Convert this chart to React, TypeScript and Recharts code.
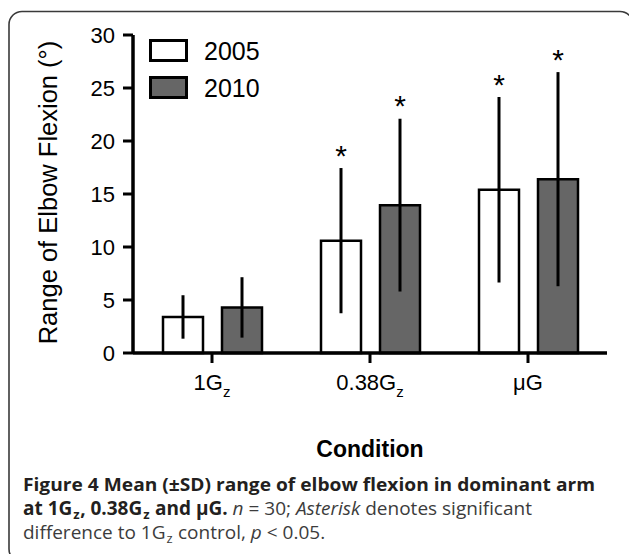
import React from 'react';
import { BarChart, Bar, XAxis, YAxis, ErrorBar, LabelList, Legend } from 'recharts';

const categories = ['1G', '0.38G', 'μG'];
const categorySubscripts = ['z', 'z', ''];
const seriesNames = ['2005', '2010'];
const mean2005 = [3.4, 10.6, 15.4];
const sd2005 = [2.05, 6.85, 8.75];
const mean2010 = [4.3, 13.95, 16.4];
const sd2010 = [2.85, 8.15, 10.1];
const sig2005 = [false, true, true];
const sig2010 = [false, true, true];
const yTicks = [0, 5, 10, 15, 20, 25, 30];

const FILL_2005 = '#ffffff';
const FILL_2010 = '#666666';
const FONT = '"Liberation Sans", Arial, Helvetica, sans-serif';
const CAPTION_FONT = '"Open Sans", "Noto Sans", sans-serif';

const data = categories.map((cat, i) => ({
  cat,
  m2005: mean2005[i],
  sd2005: sd2005[i],
  m2010: mean2010[i],
  sd2010: sd2010[i],
}));

const makeStar = (means: number[], sds: number[], sig: boolean[]) => (props: any) => {
  const vb = props.viewBox || {};
  const x0 = props.x ?? vb.x;
  const y0 = props.y ?? vb.y;
  const w = props.width ?? vb.width;
  const h0 = props.height ?? vb.height;
  let idx = props.index;
  const value = Number(props.value);
  if (idx === undefined || idx === null) idx = means.indexOf(value);
  if (idx < 0 || !sig[idx] || !value) return null;
  const top = Math.min(y0, y0 + h0);
  const h = Math.abs(h0);
  const pxPerUnit = h / value;
  const errTop = top - sds[idx] * pxPerUnit;
  return (
    <text
      key={`star-${idx}`}
      x={x0 + w / 2}
      y={errTop - 2.5}
      textAnchor="middle"
      fontSize={30}
      fontFamily={FONT}
      fill="#000"
    >
      *
    </text>
  );
};

const XTick = (props: any) => {
  const { x, y, payload } = props;
  let idx = props.index;
  if (idx === undefined) idx = categories.indexOf(payload.value);
  const sub = categorySubscripts[idx];
  return (
    <text x={x} y={y} dy={23} textAnchor="middle" fontSize={22} fontFamily={FONT} fill="#000">
      {payload.value}
      {sub ? (
        <tspan dy={7} fontSize={15}>
          {sub}
        </tspan>
      ) : null}
    </text>
  );
};

const renderLegend = (props: any) => {
  const fills = [FILL_2005, FILL_2010];
  const items = (props && props.payload && props.payload.length ? props.payload : seriesNames.map((n) => ({ value: n }))) as any[];
  return (
    <svg width={170} height={70} style={{ display: 'block', overflow: 'visible' }}>
      {items.map((entry: any, i: number) => (
        <g key={`lg-${i}`} transform={`translate(0, ${i * 37})`}>
          <rect x={1.5} y={1.5} width={36} height={20} fill={fills[i]} stroke="#000" strokeWidth={3} />
          <text x={55} y={21} fontSize={25} fontFamily={FONT} fill="#000">
            {entry.value}
          </text>
        </g>
      ))}
    </svg>
  );
};

const YLabel = (props: any) => {
  const vb = props.viewBox || { x: 83, y: 35, width: 50, height: 318 };
  const cx = vb.x - 26;
  const cy = vb.y + vb.height / 2 - 1.5;
  return (
    <text
      x={cx}
      y={cy}
      transform={`rotate(-90, ${cx}, ${cy})`}
      textAnchor="middle"
      fontSize={25.5}
      fontFamily={FONT}
      fill="#000"
    >
      Range of Elbow Flexion (°)
    </text>
  );
};

const XLabel = (props: any) => {
  const vb = props.viewBox || { x: 133, y: 353, width: 474, height: 50 };
  return (
    <text
      x={vb.x + vb.width / 2}
      y={vb.y + 104}
      textAnchor="middle"
      fontSize={23}
      fontWeight={700}
      fontFamily={FONT}
      fill="#000"
    >
      Condition
    </text>
  );
};

export default function App() {
  const boldFill = '#231f20';
  const regFill = '#3c3c3c';
  return (
    <div
      style={{
        position: 'absolute',
        left: 0,
        top: 0,
        width: 629,
        height: 554,
        overflow: 'hidden',
        background: '#fff',
      }}
    >
      <BarChart
        width={629}
        height={554}
        data={data}
        margin={{ top: 35, right: 22, bottom: 151, left: 83 }}
        barSize={40}
        barGap={19}
      >
        <XAxis
          dataKey="cat"
          height={50}
          interval={0}
          tickSize={10}
          tickMargin={4}
          axisLine={{ stroke: '#000', strokeWidth: 3.5 }}
          tickLine={{ stroke: '#000', strokeWidth: 3 }}
          tick={<XTick />}
          label={{ content: (p: any) => <XLabel {...p} /> }}
        />
        <YAxis
          domain={[0, 30]}
          ticks={yTicks}
          width={50}
          interval={0}
          tickSize={10}
          tickMargin={8}
          axisLine={{ stroke: '#000', strokeWidth: 3.5 }}
          tickLine={{ stroke: '#000', strokeWidth: 3 }}
          tick={{ fontSize: 22, fill: '#000', fontFamily: FONT }}
          label={{ content: (p: any) => <YLabel {...p} /> }}
        />
        <Legend
          layout="vertical"
          align="center"
          verticalAlign="middle"
          content={renderLegend}
          wrapperStyle={{ left: 149, top: 39, width: 170, height: 70, lineHeight: 0 }}
        />
        <Bar
          dataKey="m2005"
          name={seriesNames[0]}
          fill={FILL_2005}
          stroke="#000"
          strokeWidth={2.5}
          isAnimationActive={false}
        >
          <ErrorBar dataKey="sd2005" width={0} stroke="#000" strokeWidth={3} direction="y" />
          <LabelList dataKey="m2005" content={makeStar(mean2005, sd2005, sig2005)} />
        </Bar>
        <Bar
          dataKey="m2010"
          name={seriesNames[1]}
          fill={FILL_2010}
          stroke="#000"
          strokeWidth={2.5}
          isAnimationActive={false}
        >
          <ErrorBar dataKey="sd2010" width={0} stroke="#000" strokeWidth={3} direction="y" />
          <LabelList dataKey="m2010" content={makeStar(mean2010, sd2010, sig2010)} />
        </Bar>
      </BarChart>
      <svg
        width={629}
        height={554}
        style={{ position: 'absolute', left: 0, top: 0, pointerEvents: 'none' }}
      >
        <rect x={9} y={11.5} width={624} height={550.5} rx={13} fill="none" stroke="#3a3a3a" strokeWidth={1.6} />
        <text
          x={23}
          y={491}
          fontFamily={CAPTION_FONT}
          fontSize={17}
          fontWeight={700}
          fill={boldFill}
          textLength={572}
          lengthAdjust="spacingAndGlyphs"
        >
          Figure 4 Mean (±SD) range of elbow flexion in dominant arm
        </text>
        <text x={23} y={515} fontFamily={CAPTION_FONT} fontSize={19} fill={regFill}>
          <tspan fontWeight={700} fill={boldFill}>{'at 1G'}</tspan>
          <tspan fontWeight={700} fill={boldFill} fontSize={13} dx={1} dy={4}>{'z'}</tspan>
          <tspan fontWeight={700} fill={boldFill} dx={0.5} dy={-4}>{', 0.38G'}</tspan>
          <tspan fontWeight={700} fill={boldFill} fontSize={13} dx={1} dy={4}>{'z'}</tspan>
          <tspan fontWeight={700} fill={boldFill} dx={0.5} dy={-4}>{' and μG.'}</tspan>
          <tspan>{' '}</tspan>
          <tspan fontStyle="italic">{'n'}</tspan>
          <tspan>{' = 30; '}</tspan>
          <tspan fontStyle="italic">{'Asterisk'}</tspan>
          <tspan>{' denotes significant'}</tspan>
        </text>
        <text x={23} y={539} fontFamily={CAPTION_FONT} fontSize={19} fill={regFill}>
          <tspan>{'difference to 1G'}</tspan>
          <tspan fontSize={13} dx={1} dy={4}>{'z'}</tspan>
          <tspan dx={0.5} dy={-4}>{' control, '}</tspan>
          <tspan fontStyle="italic">{'p'}</tspan>
          <tspan>{' < 0.05.'}</tspan>
        </text>
      </svg>
    </div>
  );
}
